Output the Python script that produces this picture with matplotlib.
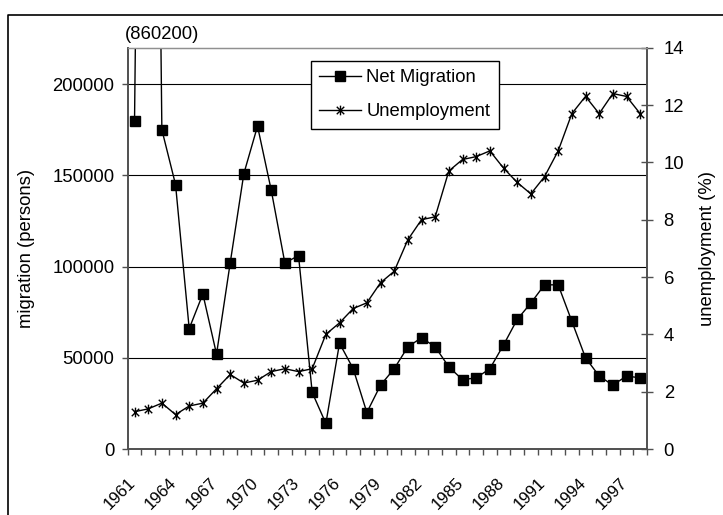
import numpy as np
import matplotlib
matplotlib.use("Agg")
import matplotlib.pyplot as plt
import matplotlib.transforms as mtransforms
from matplotlib.path import Path
from matplotlib.lines import Line2D

plt.rcParams['font.family'] = ['Liberation Sans', 'DejaVu Sans']

years = list(range(1961, 1999))
net_migration = [180000, 860200, 175000, 145000, 66000, 85000, 52000, 102000,
                 151000, 177000, 142000, 102000, 106000, 31000, 14000, 58000,
                 44000, 20000, 35000, 44000, 56000, 61000, 56000, 45000,
                 38000, 39000, 44000, 57000, 71000, 80000, 90000, 90000,
                 70000, 50000, 40000, 35000, 40000, 39000]
unemployment = [1.3, 1.4, 1.6, 1.2, 1.5, 1.6, 2.1, 2.6, 2.3, 2.4, 2.7, 2.8,
                2.7, 2.8, 4.0, 4.4, 4.9, 5.1, 5.8, 6.2, 7.3, 8.0, 8.1, 9.7,
                10.1, 10.2, 10.4, 9.8, 9.3, 8.9, 9.5, 10.4, 11.7, 12.3, 11.7,
                12.4, 12.3, 11.7]
label_years = years[::3]

W, H = 723, 515
fs = 13.3
xfs = 12.2
axis_col = '#505050'

fig = plt.figure(figsize=(W / 100, H / 100), dpi=100)
ax = fig.add_axes([127.7 / W, 1 - 449 / H, (647 - 127.7) / W, (449 - 47.7) / H])
ax2 = ax.twinx()

x = np.arange(len(years))

# asterisk-style marker: an X crossed by a vertical stroke
star = Path([(-1, -1), (1, 1), (-1, 1), (1, -1), (0, -1.3), (0, 1.3)],
            [Path.MOVETO, Path.LINETO, Path.MOVETO, Path.LINETO,
             Path.MOVETO, Path.LINETO])

ax.set_axisbelow(True)
ax.yaxis.grid(True, color='black', lw=0.8)
l1, = ax.plot(x, net_migration, color='black', lw=1.0, marker='s', ms=6.5,
              mfc='black', mec='black', label='Net Migration', zorder=3)
l2, = ax2.plot(x, unemployment, color='black', lw=1.0, marker=star, ms=7,
               mfc='none', mec='black', mew=1.0, label='Unemployment', zorder=3)

ax.set_xlim(-0.5, len(years) - 0.5)
ax.set_ylim(0, 220000)
ax2.set_ylim(0, 14)

ax.set_yticks([0, 50000, 100000, 150000, 200000])
ax.set_yticklabels([str(v) for v in [0, 50000, 100000, 150000, 200000]])
ax2.set_yticks(range(0, 15, 2))

bounds = np.arange(len(years) + 1) - 0.5
ax.set_xticks(bounds)
ax.set_xticklabels([str(years[i]) if (i < len(years) and years[i] in label_years) else ''
                    for i in range(len(bounds))],
                   rotation=45, ha='right', va='top', rotation_mode='anchor')
shift = mtransforms.ScaledTranslation(-13 / 100, 0, fig.dpi_scale_trans)
for lab in ax.get_xticklabels():
    lab.set_transform(lab.get_transform() + shift)

for a in (ax, ax2):
    for s in a.spines.values():
        s.set_color(axis_col)
        s.set_linewidth(1.2)
    a.spines['top'].set_color('#909090')
    a.spines['top'].set_linewidth(0.9)

ax.tick_params(axis='x', direction='out', length=4, width=1.0, color=axis_col,
               labelsize=xfs, pad=14.5)
ax.tick_params(axis='y', direction='out', length=4.5, width=1.0, color=axis_col,
               labelsize=fs, pad=5)
ax2.tick_params(axis='y', direction='inout', length=8, width=1.0, color=axis_col,
                labelsize=fs, pad=8)

# the 1962 value lies far above the scale; its value is written above the axes
ax.annotate(f"({net_migration[1]})", xy=(1, 220000), xytext=(14, 13),
            textcoords='offset pixels', ha='center', va='center', fontsize=fs,
            annotation_clip=False)

fig.text(27 / W, 1 - 248 / H, 'migration (persons)', rotation=90,
         ha='center', va='center', fontsize=fs)
fig.text(708 / W, 1 - 248 / H, 'unemployment (%)', rotation=90,
         ha='center', va='center', fontsize=fs)

leg = ax2.legend(handles=[l1, l2], loc='upper left',
                 bbox_to_anchor=(310.7 / W, 1 - 60.7 / H),
                 bbox_transform=fig.transFigure, borderaxespad=0,
                 fontsize=fs, frameon=True, fancybox=False, framealpha=1,
                 edgecolor='black', handlelength=2.25, handletextpad=0.3,
                 labelspacing=0.92, borderpad=0.46)
leg.get_frame().set_linewidth(1.0)

# outer chart border (left and top edges)
fig.add_artist(Line2D([8 / W, 8 / W, 1], [0, 1 - 15 / H, 1 - 15 / H],
                      transform=fig.transFigure, color='black', lw=1.2))

fig.savefig('out.png', dpi=100)
